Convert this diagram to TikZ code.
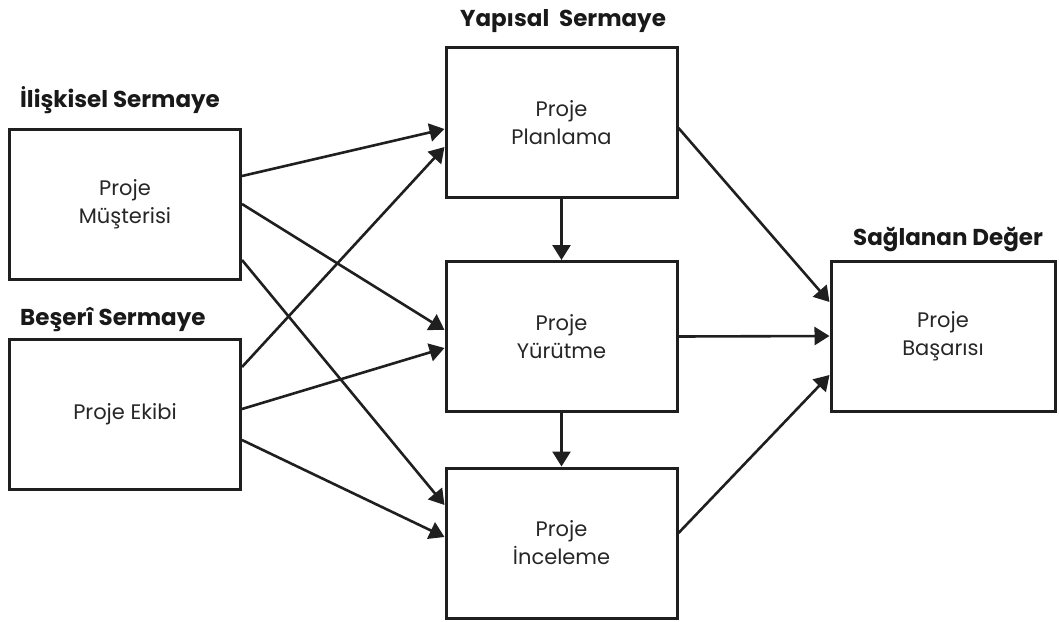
\documentclass[tikz,border=0pt]{standalone}
\usepackage{fontspec}
\setmainfont{Poppins}
\usetikzlibrary{arrows.meta,calc}

\begin{document}
\begin{tikzpicture}[x=1pt,y=-1pt,
  box/.style={draw=black!88, line width=3pt, minimum width=231pt, minimum height=150pt,
    inner sep=0pt, align=center, font=\fontsize{21}{28}\selectfont, text=black!85},
  title/.style={font=\fontsize{23}{26}\selectfont\bfseries, text=black!90, inner sep=0pt},
  link/.style={-{Triangle[length=15pt,width=18pt]}, line width=2.6pt, draw=black!88}]

\useasboundingbox (0,0) rectangle (1059,621);

% boxes
\node[box] (mus) at (125,204) {Proje\\Müşterisi};
\node[box] (eki) at (125,414.5) {Proje Ekibi};
\node[box] (pla) at (561.5,122.5) {Proje\\Planlama};
\node[box] (yur) at (561.5,336.5) {Proje\\Yürütme};
\node[box] (inc) at (561.5,543) {Proje\\İnceleme};
\node[box, minimum width=224pt] (bas) at (943,336) {Proje\\Başarısı};

% group titles
\node[title, anchor=base west] (t1) at (20,107) {İlişkisel Sermaye};
\node[title, anchor=base west] (t2) at (20,325) {Beşerî Sermaye};
\node[title, anchor=base] (t3) at (563,27) {Yapısal\ \ Sermaye};
\node[title, anchor=base west] (t4) at (853,245) {Sağlanan Değer};

% inputs to the structural capital boxes
\draw[link] ([yshift=28pt]mus.east) -- ([yshift=-6.5pt]pla.west);
\draw[link] ([yshift=0pt]mus.east) -- ([yshift=6.5pt]yur.west);
\draw[link] ([yshift=-56pt]mus.east) -- ([yshift=38pt]inc.west);
\draw[link] ([yshift=47.5pt]eki.east) -- ([yshift=-24.5pt]pla.west);
\draw[link] ([yshift=5.5pt]eki.east) -- ([yshift=-11.5pt]yur.west);
\draw[link] ([yshift=-25.5pt]eki.east) -- ([yshift=6pt]inc.west);

% process chain
\draw[link] (pla.south) -- (yur.north);
\draw[link] (yur.south) -- (inc.north);

% outputs to value delivered
\draw[link] ([yshift=-5.5pt]pla.east) -- ([yshift=34pt]bas.west);
\draw[link] (yur.east) -- (bas.west);
\draw[link] ([yshift=10pt]inc.east) -- ([yshift=-39pt]bas.west);
\end{tikzpicture}
\end{document}
